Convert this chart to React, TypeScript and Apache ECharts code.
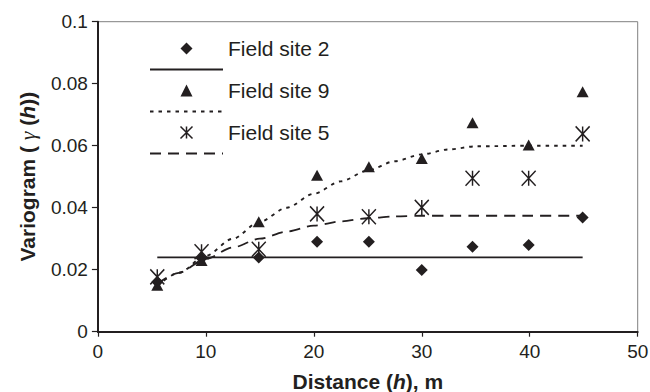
import React, { useEffect, useRef } from "react";
import * as echarts from "echarts";

// Lag distances (m)
const distances = [5.5, 9.6, 14.9, 20.3, 25.1, 30.0, 34.7, 39.9, 44.9];
// Experimental variogram values
const site2Values = [0.016, 0.0237, 0.0239, 0.029, 0.029, 0.0199, 0.0274, 0.028, 0.0368];
const site9Values = [0.015, 0.023, 0.0355, 0.0505, 0.0532, 0.0559, 0.0674, 0.0602, 0.0774];
const site5Values = [0.0177, 0.0258, 0.0266, 0.038, 0.0371, 0.0401, 0.0495, 0.0495, 0.0638];

// Fitted model curves
const site2ModelDistances = [5.5, 44.9];
const site2Model = [0.024, 0.024];
const modelDistances = [5.5, 7.5, 10, 12.5, 15, 17.5, 20, 22.5, 25, 27.5, 30, 32.5, 35, 40, 44.9];
const site9Model = [0.0148, 0.019, 0.0245, 0.03, 0.0355, 0.04, 0.0445, 0.0485, 0.052, 0.055, 0.0572, 0.0588, 0.0598, 0.06, 0.06];
const site5Model = [0.0155, 0.019, 0.0235, 0.0272, 0.03, 0.0323, 0.0342, 0.0356, 0.0366, 0.0372, 0.0374, 0.0374, 0.0374, 0.0374, 0.0374];

const xTicks = { min: 0, max: 50, interval: 10 };
const yTicks = { min: 0, max: 0.1, interval: 0.02 };

const INK = "#231f20";
const FONT = "'Liberation Sans', Arial, Helvetica, sans-serif";
const DIAMOND = "path://M5,0L10,5L5,10L0,5Z";
const TRIANGLE = "path://M5,0L10,10L0,10Z";
const STAR = "path://M0,0L10,10M10,0L0,10M5,0L5,10";

const pairs = (xs: number[], ys: number[]) => xs.map((x, i) => [x, ys[i]]);

export default function App() {
  const ref = useRef<HTMLDivElement>(null);
  useEffect(() => {
    if (!ref.current) return;
    const chart = echarts.init(ref.current, null, { renderer: "svg" });
    const nameRich = {
      b: { fontFamily: FONT, fontSize: 21, lineHeight: 20, fontWeight: "bold", color: INK },
      bi: { fontFamily: FONT, fontSize: 21, lineHeight: 20, fontWeight: "bold", fontStyle: "italic", color: INK },
      g: { fontFamily: "'Liberation Serif', 'DejaVu Serif', serif", fontSize: 22, lineHeight: 20, fontStyle: "italic", fontWeight: "normal", color: INK },
    };
    chart.setOption({
      animation: false,
      backgroundColor: "#ffffff",
      grid: {
        left: 97.9,
        right: 12.3,
        top: 21.7,
        bottom: 60.3,
        show: true,
        borderColor: "#808080",
        borderWidth: 1,
        containLabel: false,
        outerBoundsMode: "none",
      },
      legend: {
        orient: "vertical",
        left: 149,
        top: 38,
        padding: 0,
        itemGap: 0,
        itemWidth: 73,
        itemHeight: 12,
        selectedMode: false,
        textStyle: { fontFamily: FONT, fontSize: 21, lineHeight: 21, color: INK },
        formatter: (name: string) => (name.indexOf("Field") === 0 ? name : " "),
        data: [
          { name: "Field site 2", icon: DIAMOND, itemStyle: { color: INK, opacity: 1 } },
          { name: "Model site 2", itemStyle: { color: "transparent", borderWidth: 0 } },
          { name: "Field site 9", icon: TRIANGLE, itemStyle: { color: INK, opacity: 1 } },
          { name: "Model site 9", itemStyle: { color: "transparent", borderWidth: 0 } },
          { name: "Field site 5", icon: STAR, itemStyle: { color: "transparent", borderColor: INK, borderWidth: 1.5, opacity: 1 } },
          { name: "Model site 5", itemStyle: { color: "transparent", borderWidth: 0 } },
        ],
      },
      xAxis: {
        type: "value",
        min: xTicks.min,
        max: xTicks.max,
        interval: xTicks.interval,
        name: "{b|Distance (}{bi|h}{b|), m}",
        nameLocation: "middle",
        nameGap: 40,
        nameTextStyle: { fontFamily: FONT, fontSize: 21, lineHeight: 20, fontWeight: "bold", color: INK, rich: nameRich },
        axisLine: { show: true, onZero: false, lineStyle: { color: INK, width: 2 } },
        axisTick: { show: true, inside: false, length: 5, lineStyle: { color: INK, width: 1.2 } },
        axisLabel: { fontFamily: FONT, fontSize: 19, color: INK, margin: 10 },
        splitLine: { show: false },
      },
      yAxis: {
        type: "value",
        min: yTicks.min,
        max: yTicks.max,
        interval: yTicks.interval,
        name: "{b|Variogram ( }{g|γ}{b| (}{bi|h}{b|))}",
        nameLocation: "middle",
        nameGap: 60,
        nameTextStyle: { fontFamily: FONT, fontSize: 21, lineHeight: 20, fontWeight: "bold", color: INK, rich: nameRich },
        axisLine: { show: true, onZero: false, lineStyle: { color: INK, width: 2 } },
        axisTick: { show: true, inside: false, length: 6, lineStyle: { color: INK, width: 1.2 } },
        axisLabel: { fontFamily: FONT, fontSize: 19, color: INK, margin: 10 },
        splitLine: { show: false },
      },
      series: [
        {
          name: "Model site 2",
          type: "line",
          data: pairs(site2ModelDistances, site2Model),
          symbol: "circle",
          showSymbol: false,
          itemStyle: { color: "transparent" },
          lineStyle: { color: INK, width: 1.7, type: "solid" },
          z: 2,
        },
        {
          name: "Model site 9",
          type: "line",
          data: pairs(modelDistances, site9Model),
          symbol: "circle",
          showSymbol: false,
          smooth: 0.3,
          smoothMonotone: "x",
          itemStyle: { color: "transparent" },
          lineStyle: { color: INK, width: 1.9, type: [3.5, 5] },
          z: 2,
        },
        {
          name: "Model site 5",
          type: "line",
          data: pairs(modelDistances, site5Model),
          symbol: "circle",
          showSymbol: false,
          smooth: 0.3,
          smoothMonotone: "x",
          itemStyle: { color: "transparent" },
          lineStyle: { color: INK, width: 1.8, type: [11, 7] },
          z: 2,
        },
        {
          name: "Field site 2",
          type: "scatter",
          data: pairs(distances, site2Values),
          symbol: "diamond",
          symbolSize: 12,
          itemStyle: { color: INK, opacity: 1 },
          z: 5,
        },
        {
          name: "Field site 9",
          type: "scatter",
          data: pairs(distances, site9Values),
          symbol: "triangle",
          symbolSize: [12, 11],
          itemStyle: { color: INK, opacity: 1 },
          z: 5,
        },
        {
          name: "Field site 5",
          type: "scatter",
          data: pairs(distances, site5Values),
          symbol: STAR,
          symbolSize: [14, 15],
          itemStyle: { color: "transparent", borderColor: INK, borderWidth: 1.5, opacity: 1 },
          z: 6,
        },
      ],
    });
    return () => chart.dispose();
  }, []);
  return <div ref={ref} style={{ width: 650, height: 392, position: "absolute", left: 0, top: 0 }} />;
}
